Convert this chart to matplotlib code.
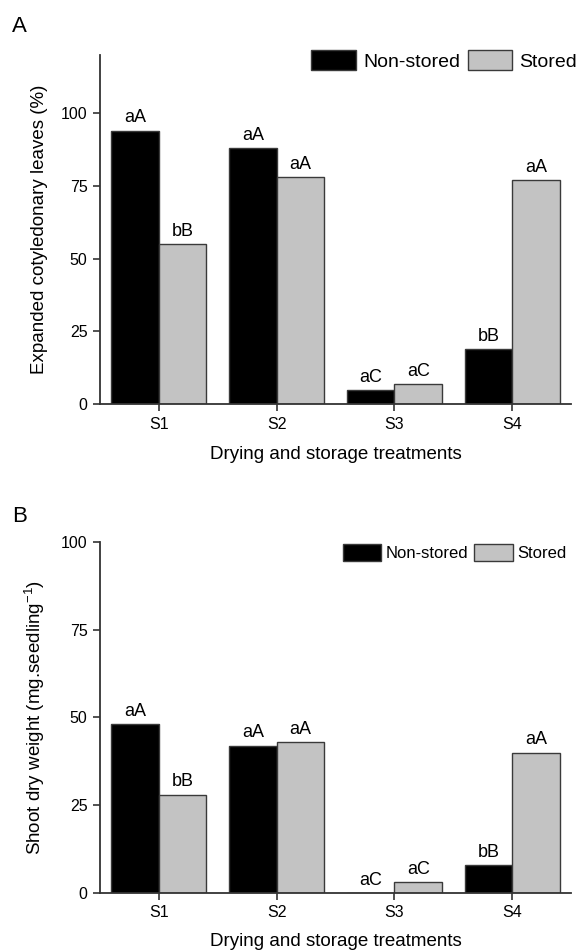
import matplotlib
matplotlib.use("Agg")
import matplotlib.pyplot as plt
from matplotlib.patches import Patch
import numpy as np

plt.rcParams['font.family'] = ['Liberation Sans', 'DejaVu Sans']

categories = ["S1", "S2", "S3", "S4"]
series_names = ["Non-stored", "Stored"]

# Panel A: Expanded cotyledonary leaves (%)
a_nonstored = [94, 88, 5, 19]
a_stored = [55, 78, 7, 77]
a_lab_nonstored = ["aA", "aA", "aC", "bB"]
a_lab_stored = ["bB", "aA", "aC", "aA"]

# Panel B: Shoot dry weight (mg.seedling-1)
b_nonstored = [48, 42, 0, 8]
b_stored = [28, 43, 3, 40]
b_lab_nonstored = ["aA", "aA", "aC", "bB"]
b_lab_stored = ["bB", "aA", "aC", "aA"]

yticks = [0, 25, 50, 75, 100]

black = "#000000"
gray = "#c3c3c3"
edge = "#3a3a3a"
axc = "#333333"

fig = plt.figure(figsize=(5.78, 9.51), dpi=100)
axA = fig.add_axes([0.173, 0.5749, 0.815, 0.3673])
axB = fig.add_axes([0.173, 0.0613, 0.815, 0.3685])

x = np.arange(len(categories))
w = 0.404


def draw(ax, ns, st, lns, lst, ylim, ylabel, xpad, ypad):
    b1 = ax.bar(x - w / 2, ns, width=w, color=black, edgecolor=edge, linewidth=1.0)
    b2 = ax.bar(x + w / 2, st, width=w, color=gray, edgecolor=edge, linewidth=1.0)
    for rect, lab in zip(b1, lns):
        ax.annotate(lab, (rect.get_x() + rect.get_width() / 2, rect.get_height()),
                    xytext=(0, 3), textcoords="offset points", ha="center", va="bottom",
                    fontsize=13)
    for rect, lab in zip(b2, lst):
        ax.annotate(lab, (rect.get_x() + rect.get_width() / 2, rect.get_height()),
                    xytext=(0, 3), textcoords="offset points", ha="center", va="bottom",
                    fontsize=13)
    ax.set_xlim(-0.5, 3.5)
    ax.set_ylim(*ylim)
    ax.set_yticks(yticks)
    ax.set_xticks(x)
    ax.set_xticklabels(categories)
    for s in ["top", "right"]:
        ax.spines[s].set_visible(False)
    for s in ["left", "bottom"]:
        ax.spines[s].set_color(axc)
        ax.spines[s].set_linewidth(1.3)
    ax.tick_params(axis="both", direction="out", length=5, width=1.2, color=axc,
                   labelsize=11.5, pad=4)
    ax.set_xlabel("Drying and storage treatments", fontsize=13.5, labelpad=xpad)
    ax.set_ylabel(ylabel, fontsize=13.5, labelpad=ypad)
    return b1, b2


draw(axA, a_nonstored, a_stored, a_lab_nonstored, a_lab_stored, (0, 120),
     "Expanded cotyledonary leaves (%)", 10, 9)
draw(axB, b_nonstored, b_stored, b_lab_nonstored, b_lab_stored, (0, 100),
     r"Shoot dry weight (mg.seedling$^{\mathregular{-1}}$)", 9, 10)

handles = [Patch(facecolor=black, edgecolor=edge, linewidth=1.0),
           Patch(facecolor=gray, edgecolor=edge, linewidth=1.0)]

axA.legend(handles, series_names, loc="upper right", ncol=2, frameon=False,
           bbox_to_anchor=(577 / 578, (951 - 50) / 951), bbox_transform=fig.transFigure,
           borderaxespad=0, borderpad=0, fontsize=14, handlelength=2.3,
           handleheight=1.2, handletextpad=0.35, columnspacing=0.4)
axB.legend(handles, series_names, loc="upper right", ncol=2, frameon=False,
           bbox_to_anchor=(567 / 578, (951 - 544) / 951), bbox_transform=fig.transFigure,
           borderaxespad=0, borderpad=0, fontsize=12, handlelength=2.3,
           handleheight=1.2, handletextpad=0.3, columnspacing=0.35)

fig.text(12 / 578, 1 - 27 / 951, "A", fontsize=16, va="center", ha="left")
fig.text(12 / 578, 1 - 517 / 951, "B", fontsize=16, va="center", ha="left")

fig.savefig("out.png", dpi=100, facecolor="white")
